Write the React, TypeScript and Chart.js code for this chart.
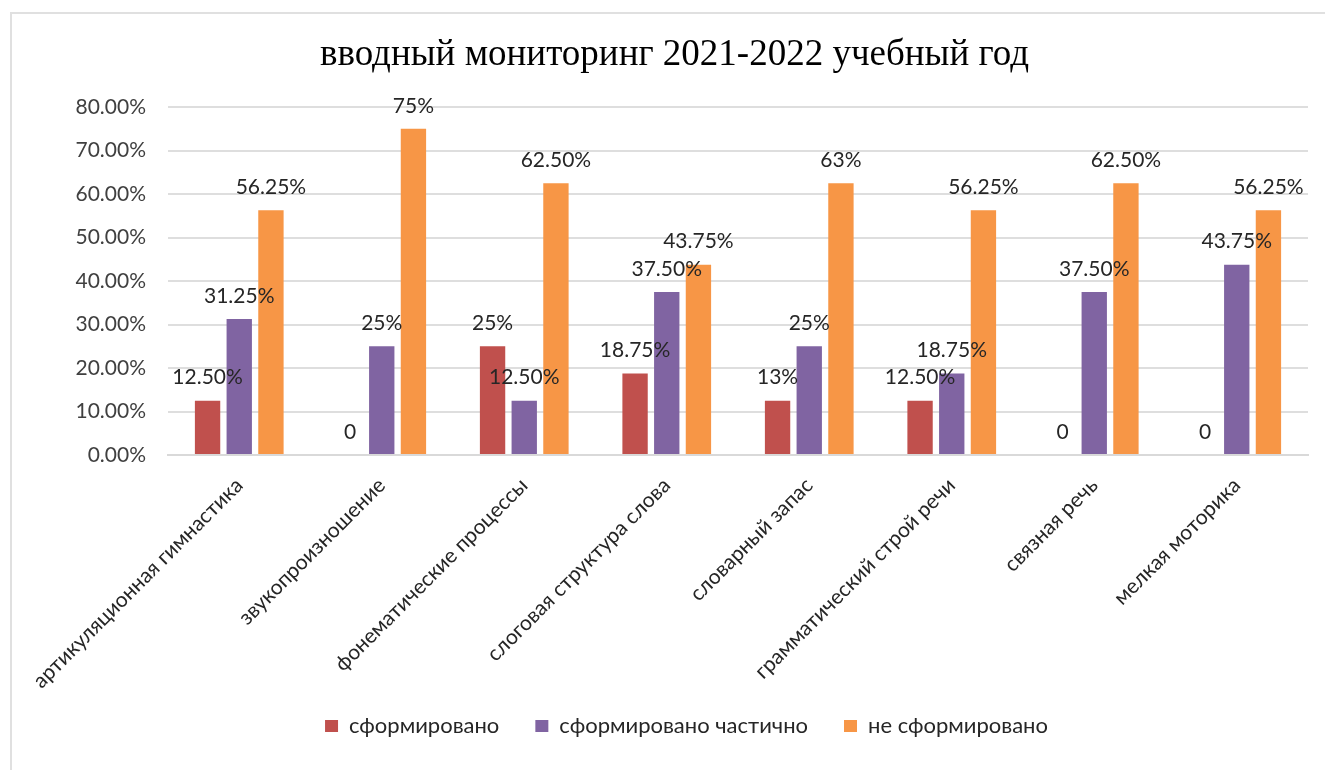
import React, { useEffect, useRef } from "react";
import { Chart, registerables } from "chart.js";

Chart.register(...registerables);

const categories = [
  "артикуляционная гимнастика",
  "звукопроизношение",
  "фонематические процессы",
  "слоговая структура слова",
  "словарный запас",
  "грамматический строй речи",
  "связная речь",
  "мелкая моторика",
];

const seriesNames = ["сформировано", "сформировано частично", "не сформировано"];

const formed = [12.5, 0, 25, 18.75, 12.5, 12.5, 0, 0];
const partial = [31.25, 25, 12.5, 37.5, 25, 18.75, 37.5, 43.75];
const notFormed = [56.25, 75, 62.5, 43.75, 62.5, 56.25, 62.5, 56.25];

const formedLabels = ["12.50%", "0", "25%", "18.75%", "13%", "12.50%", "0", "0"];
const partialLabels = ["31.25%", "25%", "12.50%", "37.50%", "25%", "18.75%", "37.50%", "43.75%"];
const notFormedLabels = ["56.25%", "75%", "62.50%", "43.75%", "63%", "56.25%", "62.50%", "56.25%"];

const colors = ["#C0504D", "#8064A2", "#F79646"];

const SANS = "Lato, 'Open Sans', sans-serif";

export default function App() {
  const ref = useRef<HTMLCanvasElement | null>(null);

  useEffect(() => {
    if (!ref.current) return;
    const allLabels = [formedLabels, partialLabels, notFormedLabels];
    const dataLabelPlugin = {
      id: "dataLabels",
      afterDatasetsDraw(chart: any) {
        const ctx = chart.ctx;
        ctx.save();
        ctx.font = `21px ${SANS}`;
        ctx.fillStyle = "#262626";
        ctx.textAlign = "center";
        ctx.textBaseline = "middle";
        chart.data.datasets.forEach((_ds: any, di: number) => {
          const meta = chart.getDatasetMeta(di);
          meta.data.forEach((el: any, i: number) => {
            ctx.fillText(allLabels[di][i], el.x, el.y - 23);
          });
        });
        ctx.restore();
      },
    };
    const legendShift = {
      id: "legendShift",
      afterLayout(chart: any) {
        const lg = chart.legend;
        if (lg) {
          lg.left += 12;
          lg.right += 12;
          lg.top -= 21;
          lg.bottom -= 21;
        }
      },
    };

    const chart = new Chart(ref.current, {
      type: "bar",
      data: {
        labels: categories,
        datasets: [
          { label: seriesNames[0], data: formed, backgroundColor: colors[0] },
          { label: seriesNames[1], data: partial, backgroundColor: colors[1] },
          { label: seriesNames[2], data: notFormed, backgroundColor: colors[2] },
        ],
      },
      options: {
        animation: false,
        responsive: true,
        maintainAspectRatio: false,
        datasets: { bar: { categoryPercentage: 0.667, barPercentage: 0.8 } } as any,
        layout: { padding: { left: 41, right: 17, top: 0, bottom: 2 } },
        plugins: {
          title: {
            display: true,
            text: "вводный мониторинг 2021-2022 учебный год",
            font: { family: "'Liberation Serif', 'Times New Roman', serif", size: 37, weight: "normal" },
            color: "#000000",
            padding: { top: 33, bottom: 29.6 },
          },
          legend: {
            position: "bottom",
            labels: {
              boxWidth: 13,
              boxHeight: 12,
              padding: 36,
              color: "#262626",
              font: { family: SANS, size: 22 },
            },
          },
          tooltip: { enabled: false },
        },
        scales: {
          x: {
            grid: { display: false },
            border: { display: true, color: "#d9d9d9", width: 2 },
            ticks: {
              minRotation: 45,
              maxRotation: 45,
              padding: 10,
              color: "#262626",
              font: { family: SANS, size: 21 },
            },
            afterFit: (scale: any) => {
              scale.height = 245;
            },
          },
          y: {
            min: 0,
            max: 80,
            ticks: {
              stepSize: 10,
              padding: 22,
              color: "#404040",
              font: { family: SANS, size: 21 },
              callback: (v: any) => Number(v).toFixed(2) + "%",
            },
            grid: { color: "#dedede", lineWidth: 2, drawTicks: false },
            border: { display: false },
            afterFit: (scale: any) => {
              scale.width = 127;
            },
          },
        },
      },
      plugins: [dataLabelPlugin, legendShift],
    });
    return () => chart.destroy();
  }, []);

  return (
    <div
      style={{
        position: "fixed",
        left: 0,
        top: 0,
        width: 1325,
        height: 770,
        overflow: "hidden",
        background: "#ffffff",
      }}
    >
      <div
        style={{
          position: "absolute",
          left: 10,
          top: 12,
          right: 0,
          bottom: 0,
          borderLeft: "2px solid #e0e0e0",
          borderTop: "2px solid #e0e0e0",
        }}
      />
      <div style={{ position: "absolute", left: 0, top: 0, width: 1325, height: 770 }}>
        <canvas ref={ref} />
      </div>
    </div>
  );
}
